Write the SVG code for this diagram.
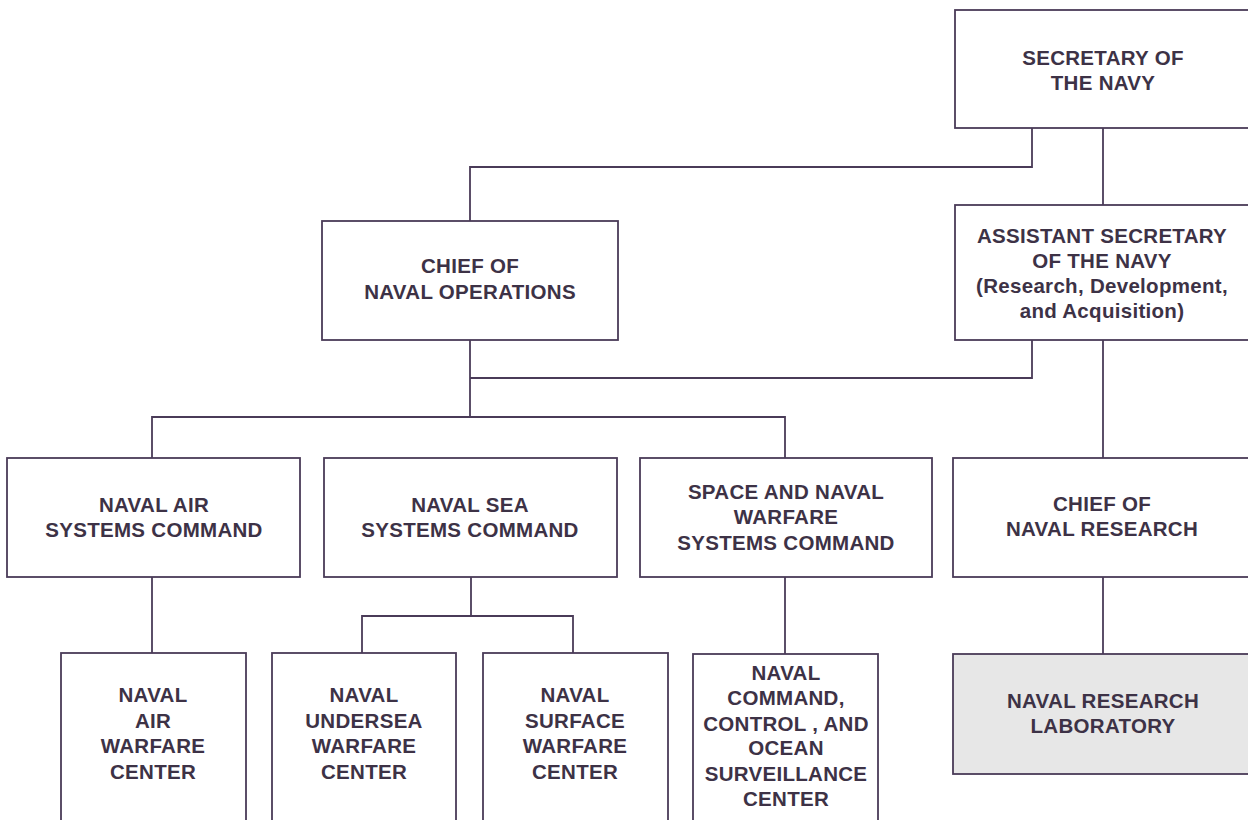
<svg xmlns="http://www.w3.org/2000/svg" width="1248" height="820" viewBox="0 0 1248 820">
<style>
.box{fill:#ffffff;stroke:#4a3b58;stroke-width:1.8}
.nrl{fill:#e7e7e7;stroke:#4a3b58;stroke-width:1.8}
.ln{fill:none;stroke:#4a3b58;stroke-width:1.8}
text{font-family:"Liberation Sans",Arial,sans-serif;font-weight:bold;font-size:20.5px;letter-spacing:0.3px;fill:#3d3246;text-anchor:middle}
</style>
<rect width="1248" height="820" fill="#ffffff"/>
<g id="connectors">
<path class="ln" d="M1032,128 V167 H470 V221"/>
<path class="ln" d="M1103,128 V205"/>
<path class="ln" d="M1032,340 V378 H470"/>
<path class="ln" d="M470,340 V417"/>
<path class="ln" d="M152,458 V417 H785 V458"/>
<path class="ln" d="M1103,340 V458"/>
<path class="ln" d="M152,577 V653"/>
<path class="ln" d="M471,577 V616"/>
<path class="ln" d="M362,653 V616 H573 V653"/>
<path class="ln" d="M785,577 V654"/>
<path class="ln" d="M1103,577 V654"/>
</g>
<g id="secnav">
<rect class="box" x="955" y="10" width="300" height="118"/>
<text x="1103" y="65">SECRETARY OF</text>
<text x="1103" y="90">THE NAVY</text>
</g>
<g id="cno">
<rect class="box" x="322" y="221" width="296" height="119"/>
<text x="470" y="273">CHIEF OF</text>
<text x="470" y="299">NAVAL OPERATIONS</text>
</g>
<g id="asn">
<rect class="box" x="955" y="205" width="300" height="135"/>
<text x="1102" y="243">ASSISTANT SECRETARY</text>
<text x="1102" y="268">OF THE NAVY</text>
<text x="1102" y="293">(Research, Development,</text>
<text x="1102" y="318">and Acquisition)</text>
</g>
<g id="navair">
<rect class="box" x="7" y="458" width="293" height="119"/>
<text x="154" y="512">NAVAL AIR</text>
<text x="154" y="537">SYSTEMS COMMAND</text>
</g>
<g id="navsea">
<rect class="box" x="324" y="458" width="293" height="119"/>
<text x="470" y="512">NAVAL SEA</text>
<text x="470" y="537">SYSTEMS COMMAND</text>
</g>
<g id="spawar">
<rect class="box" x="640" y="458" width="292" height="119"/>
<text x="786" y="499">SPACE AND NAVAL</text>
<text x="786" y="524">WARFARE</text>
<text x="786" y="550">SYSTEMS COMMAND</text>
</g>
<g id="cnr">
<rect class="box" x="953" y="458" width="302" height="119"/>
<text x="1102" y="511">CHIEF OF</text>
<text x="1102" y="536">NAVAL RESEARCH</text>
</g>
<g id="nawc">
<rect class="box" x="61" y="653" width="185" height="180"/>
<text x="153" y="702">NAVAL</text>
<text x="153" y="728">AIR</text>
<text x="153" y="753">WARFARE</text>
<text x="153" y="779">CENTER</text>
</g>
<g id="nuwc">
<rect class="box" x="272" y="653" width="184" height="180"/>
<text x="364" y="702">NAVAL</text>
<text x="364" y="728">UNDERSEA</text>
<text x="364" y="753">WARFARE</text>
<text x="364" y="779">CENTER</text>
</g>
<g id="nswc">
<rect class="box" x="483" y="653" width="185" height="180"/>
<text x="575" y="702">NAVAL</text>
<text x="575" y="728">SURFACE</text>
<text x="575" y="753">WARFARE</text>
<text x="575" y="779">CENTER</text>
</g>
<g id="nccosc">
<rect class="box" x="693" y="654" width="185" height="180"/>
<text x="786" y="680">NAVAL</text>
<text x="786" y="705">COMMAND,</text>
<text x="786" y="731">CONTROL , AND</text>
<text x="786" y="755">OCEAN</text>
<text x="786" y="781">SURVEILLANCE</text>
<text x="786" y="806">CENTER</text>
</g>
<g id="nrl">
<rect class="nrl" x="953" y="654" width="302" height="120"/>
<text x="1103" y="708">NAVAL RESEARCH</text>
<text x="1103" y="733">LABORATORY</text>
</g>
</svg>
